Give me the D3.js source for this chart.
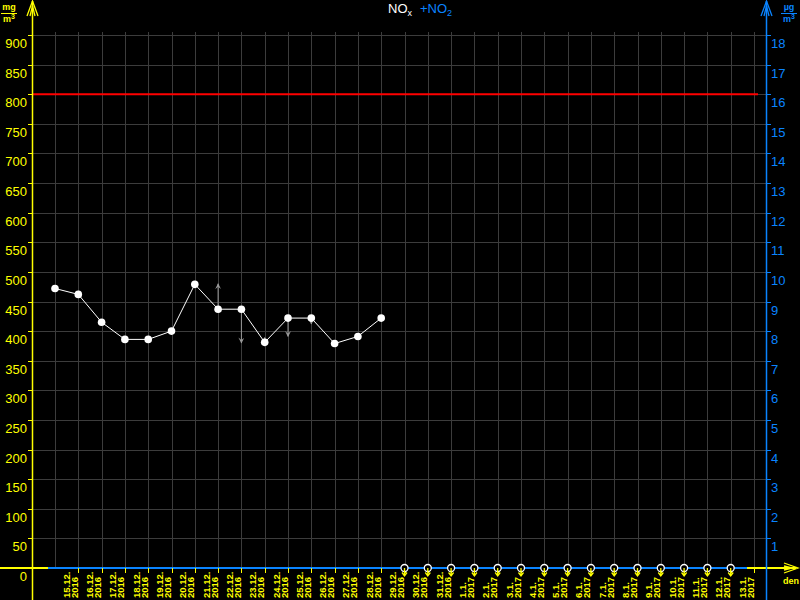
<!DOCTYPE html>
<html>
<head>
<meta charset="utf-8">
<script src="https://cdn.jsdelivr.net/npm/d3@7"></script>
<style>
  body { margin: 0; background: #000; }
  svg { display: block; background: #000; }
  text { font-family: "Liberation Sans", Arial, sans-serif; }
</style>
</head>
<body>
<div id="chart"></div>
<script>
// days shown on the x axis (two label lines each)
var dayLabels = ["15.12.", "16.12.", "17.12.", "18.12.", "19.12.", "20.12.", "21.12.", "22.12.",
  "23.12.", "24.12.", "25.12.", "26.12.", "27.12.", "28.12.", "29.12.", "30.12.", "31.12.",
  "1.1.", "2.1.", "3.1.", "4.1.", "5.1.", "6.1.", "7.1.", "8.1.", "9.1.", "10.1.", "11.1.",
  "12.1.", "13.1."];
var yearLabels = ["2016", "2016", "2016", "2016", "2016", "2016", "2016", "2016", "2016",
  "2016", "2016", "2016", "2016", "2016", "2016", "2016", "2016", "2017", "2017", "2017",
  "2017", "2017", "2017", "2017", "2017", "2017", "2017", "2017", "2017", "2017"];

// NOx daily values (mg/m3 axis), only first 15 days measured
var noxValues = [472, 462, 415, 386, 386, 400, 479, 437, 437, 381, 422, 422, 379, 391, 422];
// NO2 series (right axis), all at zero
var no2Values = [0, 0, 0, 0, 0, 0, 0, 0, 0, 0, 0, 0, 0, 0, 0, 0, 0, 0, 0, 0, 0, 0, 0, 0, 0, 0, 0, 0, 0, 0, 0];
// days without data (open markers)
var missingDays = [15, 16, 17, 18, 19, 20, 21, 22, 23, 24, 25, 26, 27, 28, 29];
// small grey arrows: day index and value the arrow points to
var arrowDays = [7, 8, 9, 10, 11];
var arrowTo = [480, 380, 389, 391, 412];

var limitValue = 800;
var leftTicks = [0, 50, 100, 150, 200, 250, 300, 350, 400, 450, 500, 550, 600, 650, 700, 750, 800, 850, 900];
var rightTicks = [1, 2, 3, 4, 5, 6, 7, 8, 9, 10, 11, 12, 13, 14, 15, 16, 17, 18];

var width = 800, height = 600;
var axisL = 32, axisR = 766, baseY = 568, topY = 35;
var yellow = "#ffff00", blue = "#0a84ff", grid = "#3c3c3c";

var svg = d3.select("#chart").append("svg")
  .attr("width", width)
  .attr("height", height);

var x = d3.scaleLinear().domain([0, 30]).range([55, 754]);
var y = d3.scaleLinear().domain([0, 900]).range([baseY, topY]);
var y2 = d3.scaleLinear().domain([0, 18]).range([baseY, topY]);

// grid
svg.append("g").selectAll("line")
  .data(leftTicks.filter(function (d) { return d > 0; }))
  .enter().append("line")
  .attr("x1", axisL).attr("x2", axisR)
  .attr("y1", function (d) { return Math.round(y(d)) + 0.5; })
  .attr("y2", function (d) { return Math.round(y(d)) + 0.5; })
  .attr("stroke", grid).attr("stroke-width", 1);

svg.append("g").selectAll("line")
  .data(d3.range(31))
  .enter().append("line")
  .attr("x1", function (d) { return Math.round(x(d)) + 0.5; })
  .attr("x2", function (d) { return Math.round(x(d)) + 0.5; })
  .attr("y1", 32).attr("y2", baseY)
  .attr("stroke", grid).attr("stroke-width", 1);

// limit line
svg.append("line")
  .attr("x1", axisL).attr("x2", 758)
  .attr("y1", y(limitValue)).attr("y2", y(limitValue))
  .attr("stroke", "#ff0000").attr("stroke-width", 2);

// x axis (yellow) + NO2 series on top (blue)
svg.append("line")
  .attr("x1", 0).attr("x2", 796)
  .attr("y1", baseY).attr("y2", baseY)
  .attr("stroke", yellow).attr("stroke-width", 2);

var no2Line = d3.line()
  .x(function (d, i) { return x(i) - 7; })
  .y(function (d) { return y2(d); });
svg.append("path")
  .datum(no2Values)
  .attr("d", no2Line)
  .attr("fill", "none")
  .attr("stroke", blue)
  .attr("stroke-width", 2);

// x ticks and labels
svg.append("g").selectAll("line")
  .data(d3.range(1, 31))
  .enter().append("line")
  .attr("x1", function (d) { return Math.round(x(d)) + 0.5; })
  .attr("x2", function (d) { return Math.round(x(d)) + 0.5; })
  .attr("y1", baseY).attr("y2", baseY + 5)
  .attr("stroke", yellow);

var xl = svg.append("g").selectAll("text")
  .data(dayLabels)
  .enter().append("text")
  .attr("transform", function (d, i) {
    return "translate(" + (x(i + 1) - 8.5) + ",598) rotate(-90)";
  })
  .attr("fill", yellow)
  .attr("font-size", "9.5px")
  .attr("font-weight", "bold");
xl.append("tspan").attr("x", 0).attr("y", 0).text(function (d) { return d; });
xl.append("tspan").attr("x", 0).attr("y", 8).text(function (d, i) { return yearLabels[i]; });

// left axis
svg.append("line")
  .attr("x1", axisL + 0.5).attr("x2", axisL + 0.5)
  .attr("y1", 1).attr("y2", height)
  .attr("stroke", yellow).attr("stroke-width", 1.5);
svg.append("path")
  .attr("d", "M27,16L32.5,1L38,16M30,16L32.5,6L35,16")
  .attr("fill", "none").attr("stroke", yellow).attr("stroke-width", 1.3);

svg.append("g").selectAll("line")
  .data(leftTicks)
  .enter().append("line")
  .attr("x1", axisL - 4).attr("x2", axisL)
  .attr("y1", function (d) { return Math.round(y(d)) + 0.5; })
  .attr("y2", function (d) { return Math.round(y(d)) + 0.5; })
  .attr("stroke", yellow);

svg.append("g").selectAll("text")
  .data(leftTicks)
  .enter().append("text")
  .attr("x", 27)
  .attr("y", function (d) { return y(d) + 13; })
  .attr("text-anchor", "end")
  .attr("fill", yellow)
  .attr("font-size", "13px")
  .text(function (d) { return d; });

// right axis
svg.append("line")
  .attr("x1", axisR + 0.5).attr("x2", axisR + 0.5)
  .attr("y1", 1).attr("y2", height)
  .attr("stroke", blue).attr("stroke-width", 1.5);
svg.append("path")
  .attr("d", "M761,16L766.5,1L772,16M764,16L766.5,6L769,16")
  .attr("fill", "none").attr("stroke", blue).attr("stroke-width", 1.3);

svg.append("g").selectAll("line")
  .data(rightTicks)
  .enter().append("line")
  .attr("x1", axisR).attr("x2", axisR + 5)
  .attr("y1", function (d) { return Math.round(y2(d)) + 0.5; })
  .attr("y2", function (d) { return Math.round(y2(d)) + 0.5; })
  .attr("stroke", blue);

svg.append("g").selectAll("text")
  .data(rightTicks)
  .enter().append("text")
  .attr("x", 771)
  .attr("y", function (d) { return y2(d) + 13; })
  .attr("fill", blue)
  .attr("font-size", "13px")
  .text(function (d) { return d; });

// x axis arrow + unit
svg.append("path")
  .attr("d", "M784,563L798,568L784,573M784,566L792,568L784,570")
  .attr("fill", "none").attr("stroke", yellow).attr("stroke-width", 1.3);
svg.append("text")
  .attr("x", 791).attr("y", 584)
  .attr("text-anchor", "middle")
  .attr("fill", yellow).attr("font-size", "9px").attr("font-weight", "bold")
  .text("den");

// units
function unit(xc, color, first) {
  var g = svg.append("g").attr("fill", color).attr("font-size", "9px").attr("font-weight", "bold");
  g.append("text").attr("x", xc).attr("y", 10).attr("text-anchor", "middle").text(first);
  g.append("line").attr("x1", xc - 8).attr("x2", xc + 8).attr("y1", 13.5).attr("y2", 13.5)
    .attr("stroke", color);
  var t = g.append("text").attr("x", xc).attr("y", 22).attr("text-anchor", "middle").text("m");
  t.append("tspan").attr("dy", -3).attr("font-size", "7px").text("3");
}
unit(9, yellow, "mg");
unit(789, blue, "\u00b5g");

// title
var title = svg.append("text")
  .attr("x", 388).attr("y", 13)
  .attr("font-size", "13px");
title.append("tspan").attr("fill", "#ffffff").text("NO");
title.append("tspan").attr("fill", "#ffffff").attr("font-size", "9px").attr("dy", 3).text("x");
title.append("tspan").attr("fill", blue).attr("dy", -3).attr("dx", 8).text("+NO");
title.append("tspan").attr("fill", blue).attr("font-size", "9px").attr("dy", 3).text("2");

// grey arrows
svg.append("defs").append("marker")
  .attr("id", "ah")
  .attr("viewBox", "0 0 10 10")
  .attr("refX", 9).attr("refY", 5)
  .attr("markerWidth", 7).attr("markerHeight", 6)
  .attr("markerUnits", "userSpaceOnUse")
  .attr("orient", "auto")
  .append("path").attr("d", "M0,0L10,5L0,10L4,5Z").attr("fill", "#999999");

svg.append("g").selectAll("line")
  .data(arrowDays)
  .enter().append("line")
  .attr("x1", function (d) { return x(d); })
  .attr("x2", function (d) { return x(d); })
  .attr("y1", function (d) { return y(noxValues[d]); })
  .attr("y2", function (d, i) { return y(arrowTo[i]); })
  .attr("stroke", "#999999").attr("stroke-width", 1)
  .attr("marker-end", "url(#ah)");

// NOx line and points
var line = d3.line()
  .x(function (d, i) { return x(i); })
  .y(function (d) { return y(d); });
svg.append("path")
  .datum(noxValues)
  .attr("d", line)
  .attr("fill", "none")
  .attr("stroke", "#ffffff")
  .attr("stroke-width", 1);

svg.append("g").selectAll("circle")
  .data(noxValues)
  .enter().append("circle")
  .attr("cx", function (d, i) { return x(i); })
  .attr("cy", function (d) { return y(d); })
  .attr("r", 3.8)
  .attr("fill", "#ffffff");

// missing-data markers
var miss = svg.append("g").selectAll("g")
  .data(missingDays)
  .enter().append("g")
  .attr("transform", function (d) { return "translate(" + x(d) + "," + baseY + ")"; });
miss.append("circle")
  .attr("r", 3.5)
  .attr("fill", "#000000")
  .attr("stroke", "#ffffff")
  .attr("stroke-width", 1.3);
miss.append("path")
  .attr("d", "M0,0V8M-2.5,4.5L0,8L2.5,4.5")
  .attr("fill", "none").attr("stroke", yellow).attr("stroke-width", 1.3);
</script>
</body>
</html>
